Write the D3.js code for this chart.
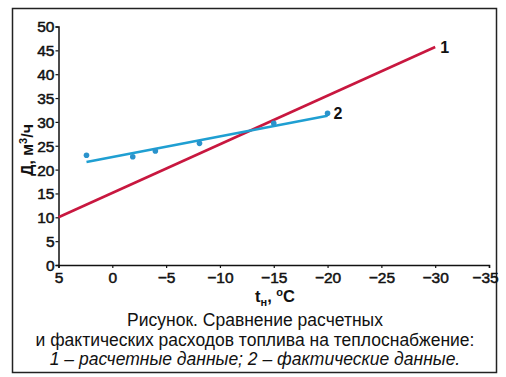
<!DOCTYPE html>
<html>
  <head>
    <meta charset="utf-8" />
    <script src="https://d3js.org/d3.v7.min.js"></script>
    <style>
      body { margin: 0; background: #fff; }
      text { font-family: "Liberation Sans", Arial, sans-serif; fill: #111; }
    </style>
  </head>
  <body>
    <svg id="viz"></svg>
    <script>
        // line 1 - calculated (start/end of straight line)
        var calcT = [5, -30];
        var calcD = [10, 45.7];

        // line 2 - actual data fit
        var fitT = [2.4, -20];
        var fitD = [21.6, 31.3];

        // actual measured points
        var factT = [2.4, -1.9, -4.0, -8.1, -15.0, -20.0];
        var factD = [23.0, 22.7, 23.9, 25.5, 29.7, 31.8];

        var xTicks = [5, 0, -5, -10, -15, -20, -25, -30, -35];
        var yTicks = [0, 5, 10, 15, 20, 25, 30, 35, 40, 45, 50];

        var captionLines = [
            "Рисунок. Сравнение расчетных",
            "и фактических расходов топлива на теплоснабжение:",
            "1 – расчетные данные; 2 – фактические данные."
        ];

        var width = 506, height = 377;

        var svg = d3.select("#viz")
            .attr("width", width)
            .attr("height", height);

        // outer frame
        svg.append("rect")
            .attr("x", 12.5).attr("y", 8.5)
            .attr("width", 484).attr("height", 364)
            .attr("fill", "none")
            .attr("stroke", "#222")
            .attr("stroke-width", 1.5);

        var x = d3.scaleLinear().domain([5, -35]).range([58.5, 489]);
        var y = d3.scaleLinear().domain([0, 50]).range([265, 26.5]);

        var minus = function(d) { return d < 0 ? "\u2212" + Math.abs(d) : String(d); };

        var xAxis = svg.append("g")
            .attr("transform", "translate(0,265)")
            .call(d3.axisBottom(x).tickValues(xTicks).tickSize(3).tickFormat(minus));

        var yAxis = svg.append("g")
            .attr("transform", "translate(58.5,0)")
            .call(d3.axisLeft(y).tickValues(yTicks).tickSize(3).tickPadding(1));

        [xAxis, yAxis].forEach(function(g) {
            g.select(".domain").attr("stroke", "#111").attr("stroke-width", 1.5);
            g.selectAll(".tick line").attr("stroke", "#111").attr("stroke-width", 1.2);
            g.selectAll(".tick text")
                .attr("font-size", 15.5)
                .attr("font-family", "Liberation Sans, Arial, sans-serif")
                .attr("fill", "#111")
                .attr("stroke", "#111")
                .attr("stroke-width", 0.5);
        });
        xAxis.selectAll(".tick text").attr("dy", "0.75em");
        yAxis.selectAll(".tick text").attr("dy", "0.35em");
        // last label sits close to the frame, nudge it left like the source
        xAxis.selectAll(".tick text").filter(function(d) { return d === -35; }).attr("dx", -4);

        var line = d3.line()
            .x(function(d) { return x(d[0]); })
            .y(function(d) { return y(d[1]); });

        svg.append("path")
            .attr("d", line(d3.zip(calcT, calcD)))
            .attr("fill", "none")
            .attr("stroke", "#c8173f")
            .attr("stroke-width", 2.6);

        svg.append("path")
            .attr("d", line(d3.zip(fitT, fitD)))
            .attr("fill", "none")
            .attr("stroke", "#1f9fd2")
            .attr("stroke-width", 2.6);

        svg.selectAll("circle.fact")
            .data(d3.zip(factT, factD))
            .enter().append("circle")
            .attr("class", "fact")
            .attr("cx", function(d) { return x(d[0]); })
            .attr("cy", function(d) { return y(d[1]); })
            .attr("r", 2.8)
            .attr("fill", "#2a93cc");

        // line labels
        svg.append("text")
            .attr("x", x(calcT[1]) + 5).attr("y", y(calcD[1]) + 6)
            .attr("font-size", 16).attr("font-weight", "bold")
            .text("1");
        svg.append("text")
            .attr("x", x(factT[5]) + 6).attr("y", y(factD[5]) + 6)
            .attr("font-size", 16).attr("font-weight", "bold")
            .text("2");

        // axis titles
        var xt = svg.append("text")
            .attr("x", 255).attr("y", 302)
            .attr("font-size", 16.5).attr("font-weight", "bold");
        xt.append("tspan").text("t");
        xt.append("tspan").attr("font-size", 11).attr("dy", 4).text("н");
        xt.append("tspan").attr("dy", -4).text(", ");
        xt.append("tspan").attr("font-size", 11).attr("dy", -6).text("o");
        xt.append("tspan").attr("dy", 6).text("C");

        var yt = svg.append("text")
            .attr("transform", "translate(33,150) rotate(-90)")
            .attr("text-anchor", "middle")
            .attr("font-size", 16).attr("font-weight", "bold");
        yt.append("tspan").text("Д, м");
        yt.append("tspan").attr("font-size", 11).attr("dy", -6).text("3");
        yt.append("tspan").attr("dy", 6).text("/ч");

        // caption
        svg.selectAll("text.cap")
            .data(captionLines)
            .enter().append("text")
            .attr("class", "cap")
            .attr("x", 255)
            .attr("y", function(d, i) { return 326 + i * 19.5; })
            .attr("text-anchor", "middle")
            .attr("font-size", 17.5)
            .attr("font-style", function(d, i) { return i === 2 ? "italic" : "normal"; })
            .text(function(d) { return d; });
    </script>
  </body>
</html>
